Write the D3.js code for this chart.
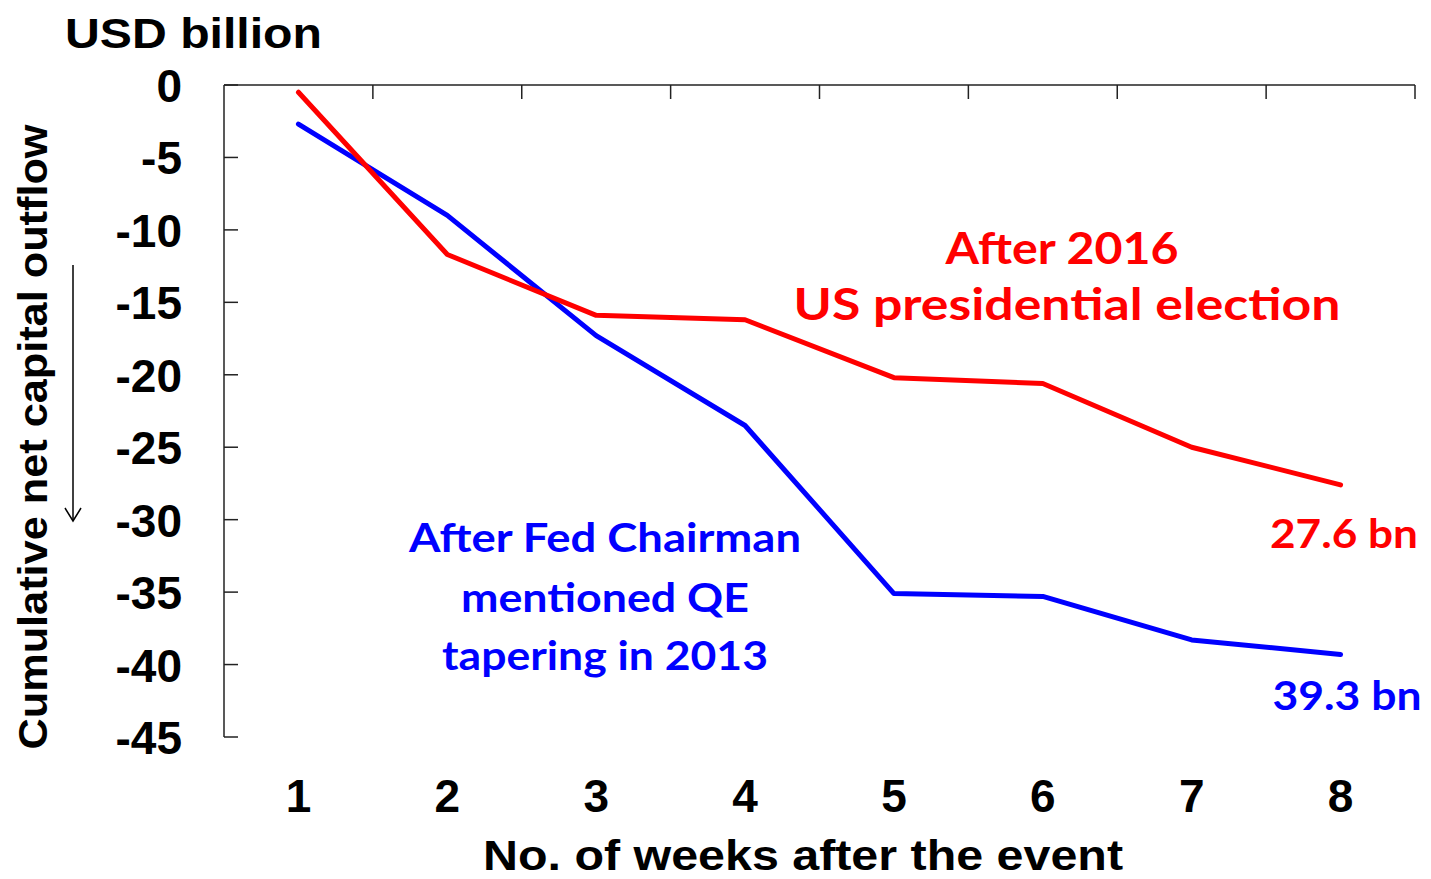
<!DOCTYPE html>
<html><head><meta charset="utf-8">
<script src="https://cdn.jsdelivr.net/npm/d3@7"></script>
<style>body{margin:0;background:#fff}svg{display:block}</style>
</head><body>
<svg id="c" width="1431" height="879"></svg>
<script>
const weeks = [1,2,3,4,5,6,7,8];
const election2016 = [-0.5,-11.7,-15.9,-16.2,-20.2,-20.6,-25.0,-27.6];
const tapering2013 = [-2.7,-9.0,-17.3,-23.5,-35.1,-35.3,-38.3,-39.3];
const yTicks = [0,-5,-10,-15,-20,-25,-30,-35,-40,-45];

const svg = d3.select("#c");
const L=224, R=1415, T=85, B=737;
const xb = d3.scaleBand().domain(weeks).range([L,R]);
const x = d => xb(d) + xb.bandwidth()/2;
const y = d3.scaleLinear().domain([-45,0]).range([B,T]);
const black = "#000";
const arial = "'Liberation Sans', Arial, sans-serif";
const cal = "Lato, 'Open Sans', sans-serif";

// Axes
svg.append("line").attr("x1",L).attr("x2",L).attr("y1",T).attr("y2",B).attr("stroke","#222").attr("stroke-width",1.5);
svg.append("line").attr("x1",L).attr("x2",R).attr("y1",T).attr("y2",T).attr("stroke","#222").attr("stroke-width",1.5);
// y ticks inward
svg.selectAll(".yt").data(yTicks).enter().append("line")
  .attr("x1",L).attr("x2",L+14).attr("y1",d=>y(d)).attr("y2",d=>y(d)).attr("stroke","#222").attr("stroke-width",1.5);
svg.selectAll(".yl").data(yTicks).enter().append("text")
  .attr("x",182).attr("y",d=>y(d)+17).attr("text-anchor","end")
  .attr("font-family",arial).attr("font-weight","bold").attr("font-size",46).attr("fill",black)
  .text(d=>d);
// top ticks at band boundaries
const bounds = weeks.slice(1).map(w=>xb(w)).concat([R]);
svg.selectAll(".xt").data(bounds).enter().append("line")
  .attr("x1",d=>d).attr("x2",d=>d).attr("y1",T).attr("y2",T+14).attr("stroke","#222").attr("stroke-width",1.5);
// x labels
svg.selectAll(".xl").data(weeks).enter().append("text")
  .attr("x",d=>x(d)).attr("y",812).attr("text-anchor","middle")
  .attr("font-family",arial).attr("font-weight","bold").attr("font-size",46).attr("fill",black)
  .text(d=>d);

// titles
svg.append("text").attr("x",65).attr("y",48).attr("font-family",arial).attr("font-weight","bold")
  .attr("font-size",42).attr("textLength",257).attr("lengthAdjust","spacingAndGlyphs").text("USD billion");
svg.append("text").attr("x",803).attr("y",870).attr("text-anchor","middle").attr("font-family",arial).attr("font-weight","bold")
  .attr("font-size",42).attr("textLength",640).attr("lengthAdjust","spacingAndGlyphs").text("No. of weeks after the event");
svg.append("text").attr("transform","translate(47,437) rotate(-90)").attr("text-anchor","middle")
  .attr("font-family",arial).attr("font-weight","bold").attr("font-size",40)
  .attr("textLength",625).attr("lengthAdjust","spacingAndGlyphs").text("Cumulative net capital outflow");
// arrow
svg.append("line").attr("x1",73).attr("x2",73).attr("y1",265).attr("y2",520).attr("stroke",black).attr("stroke-width",1.5);
svg.append("path").attr("d","M65,508 L73,521 L81,508").attr("fill","none").attr("stroke",black).attr("stroke-width",1.5);

// lines
const line = d3.line().x((d,i)=>x(weeks[i])).y(d=>y(d));
svg.append("path").datum(tapering2013).attr("d",line).attr("fill","none").attr("stroke","#0000FF").attr("stroke-width",5).attr("stroke-linejoin","round").attr("stroke-linecap","round");
svg.append("path").datum(election2016).attr("d",line).attr("fill","none").attr("stroke","#FF0000").attr("stroke-width",5).attr("stroke-linejoin","round").attr("stroke-linecap","round");

// annotations
function ann(t,xx,yy,col,size,len,anchor){
  const e=svg.append("text").attr("x",xx).attr("y",yy).attr("text-anchor",anchor||"middle")
   .attr("font-family",cal).attr("font-weight","bold").attr("font-size",size).attr("fill",col).text(t);
  if(len) e.attr("textLength",len).attr("lengthAdjust","spacingAndGlyphs");
}
ann("After 2016",1062,264,"#FF0000",44,233);
ann("US presidential election",1067,320,"#FF0000",44,547);
ann("After Fed Chairman",605,552,"#0000FF",40,392);
ann("mentioned QE",605,612,"#0000FF",40,288);
ann("tapering in 2013",605,670,"#0000FF",40,326);
ann("27.6 bn",1344,548,"#FF0000",40,148);
ann("39.3 bn",1347,710,"#0000FF",40,149);
</script>
</body></html>
